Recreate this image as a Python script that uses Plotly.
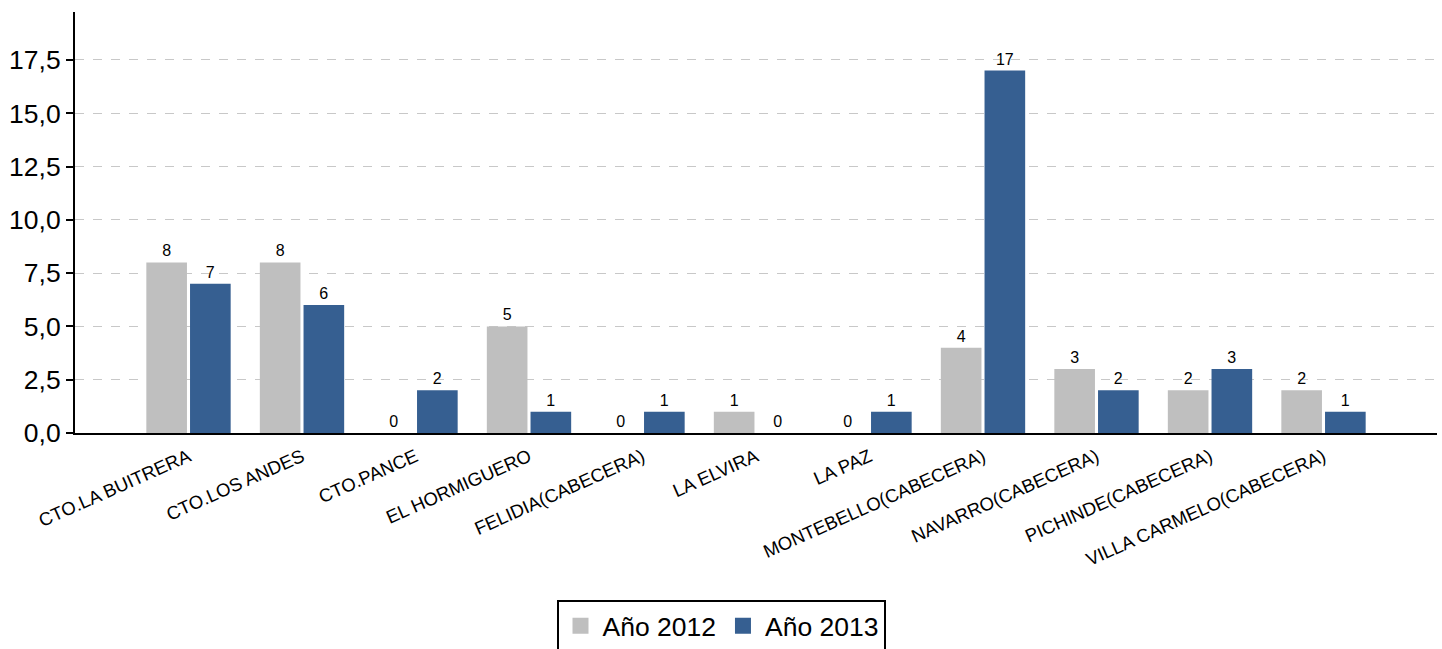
import plotly.graph_objects as go

categories = ["CTO.LA BUITRERA", "CTO.LOS ANDES", "CTO.PANCE", "EL HORMIGUERO",
              "FELIDIA(CABECERA)", "LA ELVIRA", "LA PAZ", "MONTEBELLO(CABECERA)",
              "NAVARRO(CABECERA)", "PICHINDE(CABECERA)", "VILLA CARMELO(CABECERA)"]
values_2012 = [8, 8, 0, 5, 0, 1, 0, 4, 3, 2, 2]
values_2013 = [7, 6, 2, 1, 1, 0, 1, 17, 2, 3, 1]
series_names = ["Año 2012", "Año 2013"]
y_ticks = [0, 2.5, 5, 7.5, 10, 12.5, 15, 17.5]

colors = ["#BFBFBF", "#365F91"]
font_family = "Liberation Sans, Arial, sans-serif"

fig = go.Figure()
for name, vals, col in zip(series_names, [values_2012, values_2013], colors):
    fig.add_trace(go.Bar(
        x=categories, y=vals, name=name, showlegend=False,
        marker=dict(color=col, line=dict(width=0)),
        text=[str(v) for v in vals], textposition="outside",
        textfont=dict(size=16, color="black", family=font_family),
        cliponaxis=False,
    ))
# legend entries (square swatches)
for name, col in zip(series_names, colors):
    fig.add_trace(go.Scatter(
        x=[None], y=[None], name=name, mode="markers",
        marker=dict(symbol="square", size=22, color=col),
        showlegend=True,
    ))

fig.update_layout(
    width=1442, height=649,
    margin=dict(l=75, r=5, t=12, b=216, autoexpand=False),
    plot_bgcolor="white", paper_bgcolor="white",
    separators=",.",
    barmode="group", bargap=0.23, bargroupgap=0.07,
    font=dict(family=font_family, color="black"),
    showlegend=True,
    legend=dict(
        orientation="h", xref="container", yref="container",
        x=0.5, xanchor="center", y=1 - 600 / 649, yanchor="top",
        bordercolor="black", borderwidth=2,
        font=dict(size=26.5, color="black"),
        itemsizing="trace", itemwidth=34,
    ),
    xaxis=dict(
        type="category", range=[-1, len(categories)],
        tickangle=-24, tickfont=dict(size=18.5),
        showline=True, linecolor="black", linewidth=2,
        showgrid=False, ticks="", automargin=False,
        ticklabelstandoff=4,
    ),
    yaxis=dict(
        range=[0, 19.75], tickvals=y_ticks, tickformat=".1f",
        tickfont=dict(size=26.5),
        showline=True, linecolor="black", linewidth=2,
        ticks="outside", ticklen=7, tickwidth=2, tickcolor="black",
        showgrid=True, gridcolor="#C8C8C8", griddash="dash", gridwidth=1,
        zeroline=False, automargin=False,
    ),
)

fig.write_html("out.html", config={"displayModeBar": False},
               post_script="document.body.style.margin='0';document.body.style.overflow='hidden';")
